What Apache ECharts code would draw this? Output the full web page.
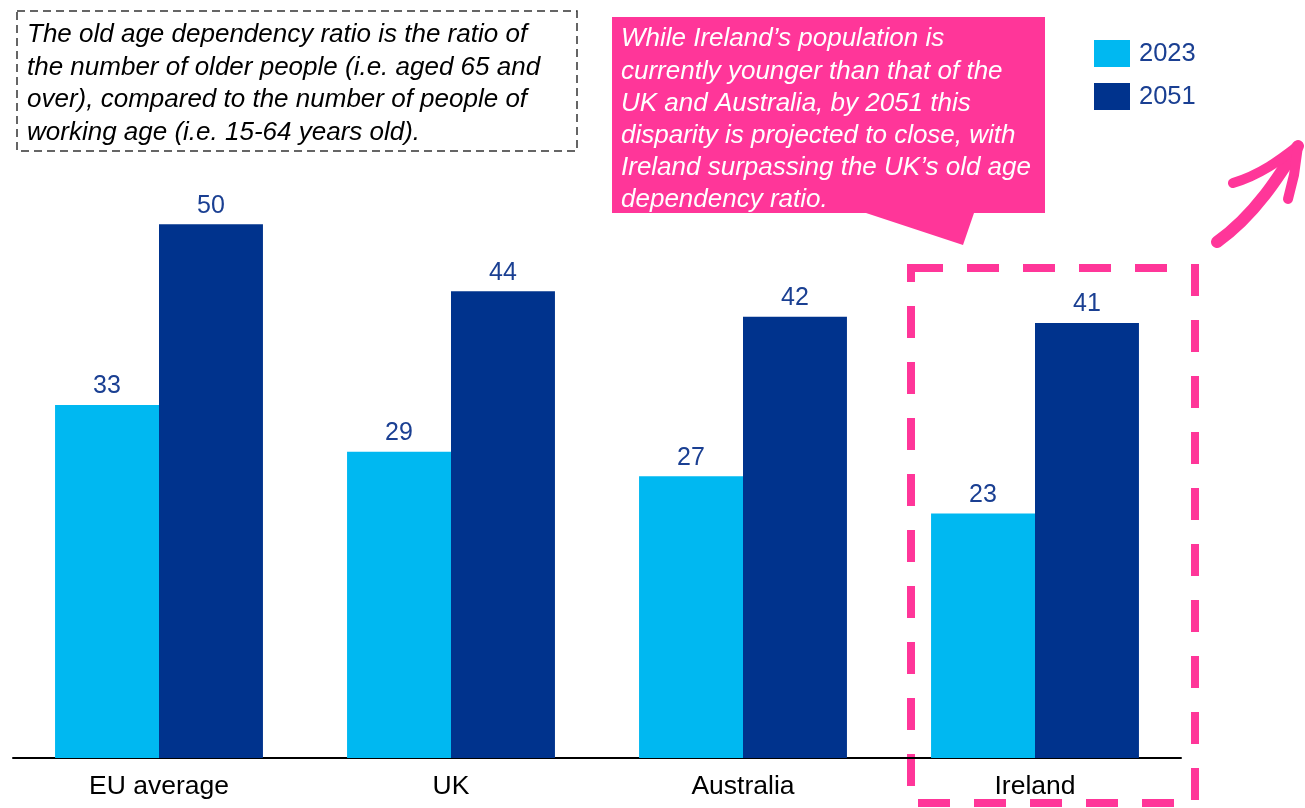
<!DOCTYPE html>
<html>
<head>
<meta charset="utf-8">
<script src="https://cdn.jsdelivr.net/npm/echarts@6/dist/echarts.min.js"></script>
<style>
  html, body { margin: 0; padding: 0; background: #fff; }
  #chart { width: 1305px; height: 808px; }
</style>
</head>
<body>
<div id="chart"></div>
<script>
// old age dependency ratio
var categories = ['EU average', 'UK', 'Australia', 'Ireland'];
var seriesNames = ['2023', '2051'];
var values2023 = [33.2, 28.8, 26.5, 23.0];
var values2051 = [50.2, 43.9, 41.5, 40.9];

var noteText = [
  'The old age dependency ratio is the ratio of',
  'the number of older people (i.e. aged 65 and',
  'over), compared to the number of people of',
  'working age (i.e. 15-64 years old).'
];
var calloutText = [
  'While Ireland\u2019s population is',
  'currently younger than that of the',
  'UK and Australia, by 2051 this',
  'disparity is projected to close, with',
  'Ireland surpassing the UK\u2019s old age',
  'dependency ratio.'
];

var lightBlue = '#00B8F1';
var darkBlue = '#00338D';
var labelBlue = '#1A3F92';
var pink = '#FF3699';
var font = '"Liberation Sans", Arial, sans-serif';

var myChart = echarts.init(document.getElementById('chart'));

function barLabel() {
  return {
    show: true,
    position: 'top',
    distance: 6,
    color: labelBlue,
    fontSize: 25,
    fontFamily: font,
    formatter: function (p) { return Math.round(p.value); }
  };
}

var option = {
  animation: false,
  backgroundColor: '#fff',
  grid: { left: 13, right: 124, top: 120, bottom: 50, containLabel: false },
  legend: {
    orient: 'vertical',
    left: 1089,
    top: 35,
    itemWidth: 36,
    itemHeight: 27,
    itemGap: 16,
    icon: 'rect',
    data: seriesNames,
    textStyle: { color: labelBlue, fontSize: 25.5, fontFamily: font, padding: [0, 0, 0, 4] }
  },
  xAxis: {
    type: 'category',
    data: categories,
    axisLine: { lineStyle: { color: '#000', width: 2 } },
    axisTick: { show: false },
    axisLabel: { color: '#000', fontSize: 26.5, fontFamily: font, margin: 15 }
  },
  yAxis: {
    type: 'value',
    min: 0,
    max: 60,
    show: false,
    splitLine: { show: false }
  },
  series: [
    {
      name: seriesNames[0],
      type: 'bar',
      data: values2023,
      barGap: '0%',
      barCategoryGap: '28.8%',
      itemStyle: { color: lightBlue },
      label: barLabel()
    },
    {
      name: seriesNames[1],
      type: 'bar',
      data: values2051,
      itemStyle: { color: darkBlue },
      label: barLabel()
    }
  ],
  graphic: [
    // definition note, dashed box
    {
      type: 'rect',
      shape: { x: 17, y: 11, width: 560, height: 140 },
      style: { fill: 'none', stroke: '#333', lineWidth: 1.5, lineDash: [8, 5] }
    },
    {
      type: 'text',
      left: 27,
      top: 19,
      style: {
        text: noteText.join('\n'),
        fill: '#000',
        font: 'italic 26px ' + font,
        lineHeight: 32.4
      }
    },
    // pink callout
    {
      type: 'polygon',
      shape: { points: [[612, 17], [1045, 17], [1045, 213], [974, 213], [963, 245], [866, 213], [612, 213]] },
      style: { fill: pink }
    },
    {
      type: 'text',
      left: 621,
      top: 23,
      style: {
        text: calloutText.join('\n'),
        fill: '#fff',
        font: 'italic 26px ' + font,
        lineHeight: 32.2
      }
    },
    // dashed highlight round Ireland
    {
      type: 'rect',
      shape: { x: 911, y: 268, width: 284, height: 535 },
      style: { fill: 'none', stroke: pink, lineWidth: 8, lineDash: [32, 24] }
    },
    // brush arrow
    {
      type: 'bezierCurve',
      shape: { x1: 1217, y1: 242, x2: 1298, y2: 146, cpx1: 1255, cpy1: 215, cpx2: 1280, cpy2: 175 },
      style: { fill: 'none', stroke: pink, lineWidth: 12, lineCap: 'round' }
    },
    {
      type: 'bezierCurve',
      shape: { x1: 1233, y1: 183, x2: 1298, y2: 146, cpx1: 1260, cpy1: 175, cpx2: 1280, cpy2: 160 },
      style: { fill: 'none', stroke: pink, lineWidth: 10, lineCap: 'round' }
    },
    {
      type: 'polyline',
      shape: { points: [[1298, 146], [1294, 175], [1288, 199]] },
      style: { fill: 'none', stroke: pink, lineWidth: 10, lineCap: 'round' }
    }
  ]
};

myChart.setOption(option);
</script>
</body>
</html>
